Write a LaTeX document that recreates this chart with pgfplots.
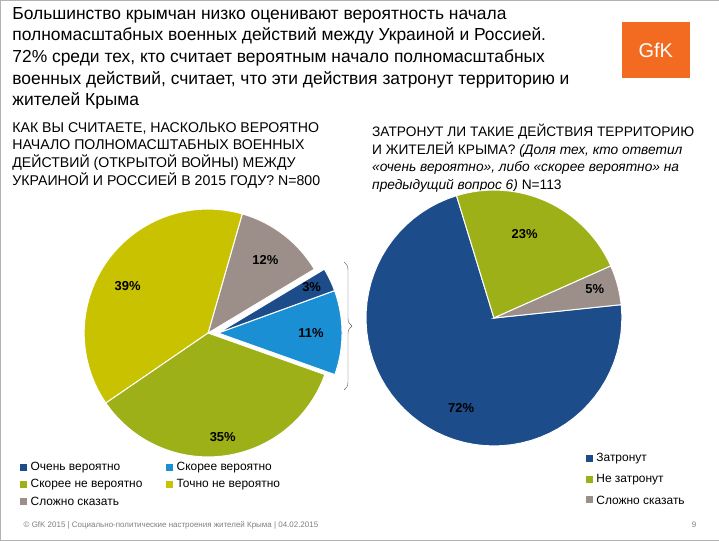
\documentclass[border=0pt]{standalone}
\usepackage{pgfplots}
\pgfplotsset{compat=1.18}
\usetikzlibrary{decorations.pathreplacing}
\usepackage{fontspec}
\setmainfont{Liberation Sans}
\definecolor{cnavy}{HTML}{1C4C8A}
\definecolor{clblue}{HTML}{1A8FD3}
\definecolor{colive}{HTML}{9DB017}
\definecolor{cyel}{HTML}{C9C200}
\definecolor{cgray}{HTML}{9C8F89}
\definecolor{cgfk}{HTML}{F26B21}
\pgfplotsset{pie/.style={hide axis, scale only axis, width=#1, height=#1, xmin=-1, xmax=1, ymin=-1, ymax=1, clip=false}}
\newcommand{\slice}[3]{\addplot[fill=#3, draw=white, line width=1pt, domain=#1:#2, samples=60] ({cos(x)},{sin(x)}) -- (axis cs:0,0) -- cycle;}
\newcommand{\plab}[3]{\node[font=\bfseries\fontsize{13}{13}\selectfont] at (axis cs:{#2*cos(#1)},{#2*sin(#1)}) {#3};}
\begin{document}
\begin{tikzpicture}
\begin{scope}[x=1bp,y=1bp]
\fill[white] (0,0) rectangle (719,540);
\draw[gray!60] (0,540) rectangle (719,0);
\node[anchor=north west, align=left, font=\fontsize{17.5}{21.7}\selectfont, inner sep=0] at (12,533) {Большинство крымчан низко оценивают вероятность начала\\полномасштабных военных действий между Украиной и Россией.\\72\% среди тех, кто считает вероятным начало полномасштабных\\военных действий, считает, что эти действия затронут территорию и\\жителей Крыма};
\fill[cgfk] (622,518) rectangle (690,462);
\node[white, font=\fontsize{20}{20}\selectfont] at (656,490) {GfK};
\node[anchor=north west, align=left, font=\fontsize{14.2}{17.7}\selectfont, inner sep=0] at (12,418) {КАК ВЫ СЧИТАЕТЕ, НАСКОЛЬКО ВЕРОЯТНО\\НАЧАЛО ПОЛНОМАСШТАБНЫХ ВОЕННЫХ\\ДЕЙСТВИЙ (ОТКРЫТОЙ ВОЙНЫ) МЕЖДУ\\УКРАИНОЙ И РОССИЕЙ В 2015 ГОДУ? N=800};
\node[anchor=north west, align=left, font=\fontsize{13.8}{17.7}\selectfont, inner sep=0] at (372,416) {ЗАТРОНУТ ЛИ ТАКИЕ ДЕЙСТВИЯ ТЕРРИТОРИЮ\\И ЖИТЕЛЕЙ КРЫМА? {\itshape (Доля тех, кто ответил}\\{\itshape «очень вероятно», либо «скорее вероятно» на}\\{\itshape предыдущий вопрос 6)} N=113};
\draw[decorate, decoration={brace, amplitude=8pt}, gray!70!black] (344,278) -- (344,150);
\begin{scope}[font=\fontsize{12}{12}\selectfont]
\fill[cnavy] (20,69) rectangle (27,76); \node[anchor=west] at (27,72.5) {Очень вероятно};
\fill[clblue] (166,69) rectangle (173,76); \node[anchor=west] at (173,72.5) {Скорее вероятно};
\fill[colive] (20,52) rectangle (27,59); \node[anchor=west] at (27,55.5) {Скорее не вероятно};
\fill[cyel] (166,52) rectangle (173,59); \node[anchor=west] at (173,55.5) {Точно не вероятно};
\fill[cgray] (20,35) rectangle (27,42); \node[anchor=west] at (27,38.5) {Сложно сказать};
\fill[cnavy] (586,77.5) rectangle (593,84.5); \node[anchor=west] at (593,81) {Затронут};
\fill[colive] (586,57) rectangle (593,64); \node[anchor=west] at (593,60.5) {Не затронут};
\fill[cgray] (586,36.5) rectangle (593,43.5); \node[anchor=west] at (593,40) {Сложно сказать};
\end{scope}
\node[anchor=west, font=\fontsize{8}{8}\selectfont, gray] at (20,15) {© GfK 2015 | Социально-политические настроения жителей Крыма | 04.02.2015};
\node[anchor=east, font=\fontsize{8}{8}\selectfont, gray] at (700,15) {9};
\end{scope}
% left pie main
\begin{axis}[pie=248bp, at={(208bp,207bp)}, anchor=center]
\slice{31}{74}{cgray}
\slice{74}{214.4}{cyel}
\slice{214.4}{340.4}{colive}
\plab{52}{0.75}{12\%}
\plab{150}{0.75}{39\%}
\plab{278}{0.85}{35\%}
\end{axis}
% exploded slices
\begin{axis}[pie=248bp, at={(218bp,207bp)}, anchor=center]
\slice{-19.6}{20}{clblue}
\slice{20}{31}{cnavy}
\plab{0}{0.75}{11\%}
\plab{26}{0.84}{3\%}
\end{axis}
% right pie
\begin{axis}[pie=256bp, at={(494bp,222bp)}, anchor=center]
\slice{107}{366}{cnavy}
\slice{24}{107}{colive}
\slice{6}{24}{cgray}
\plab{250}{0.75}{72\%}
\plab{70}{0.7}{23\%}
\plab{16}{0.82}{5\%}
\end{axis}
\end{tikzpicture}
\end{document}
